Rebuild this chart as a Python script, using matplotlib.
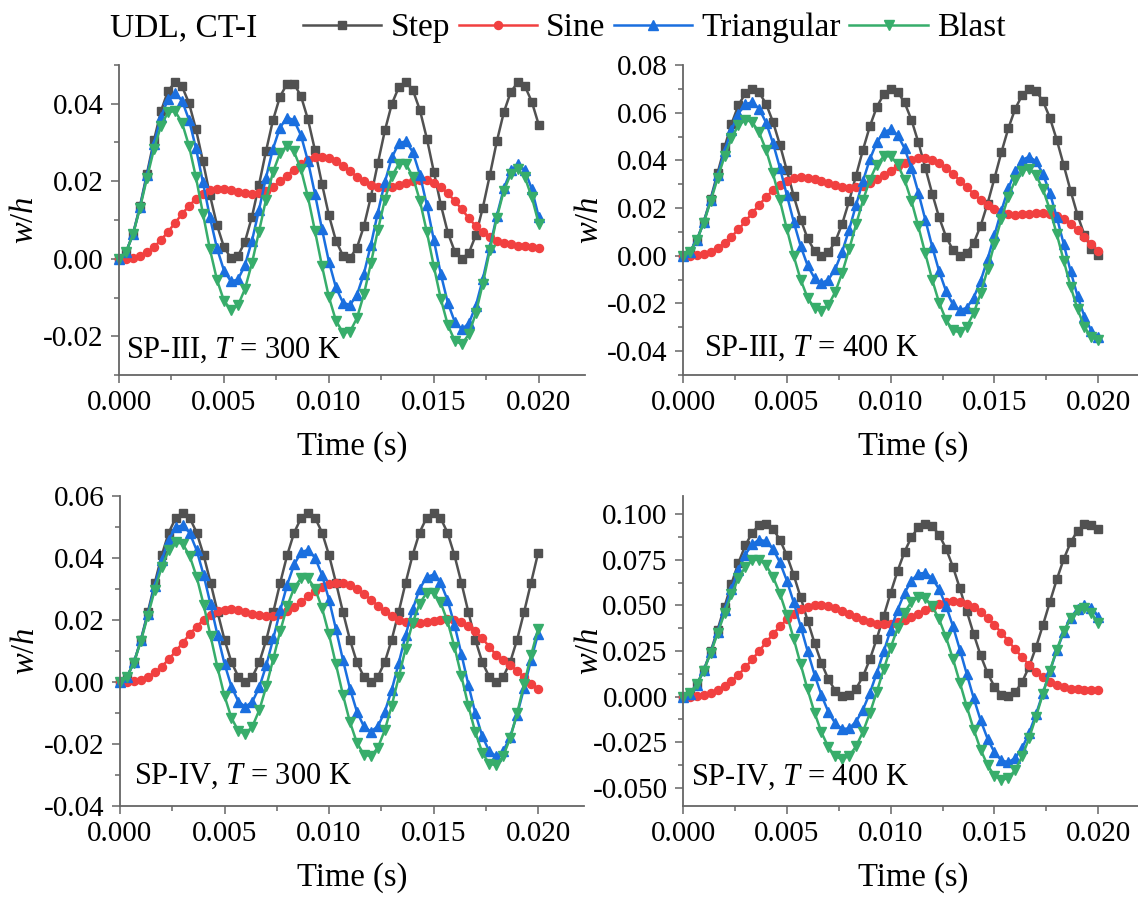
import matplotlib
matplotlib.use("Agg")
import matplotlib.pyplot as plt
from matplotlib.ticker import MultipleLocator, FormatStrFormatter

plt.rcParams['font.family'] = 'Liberation Serif'
plt.rcParams['mathtext.fontset'] = 'custom'
plt.rcParams['mathtext.rm'] = 'Liberation Serif'
plt.rcParams['mathtext.it'] = 'Liberation Serif:italic'

# time samples (s)
time = [0.0, 0.000333, 0.000667, 0.001, 0.001333, 0.001667, 0.002, 0.002333, 0.002667, 0.003,
        0.003333, 0.003667, 0.004, 0.004333, 0.004667, 0.005, 0.005333, 0.005667, 0.006, 0.006333,
        0.006667, 0.007, 0.007333, 0.007667, 0.008, 0.008333, 0.008667, 0.009, 0.009333, 0.009667,
        0.01, 0.010333, 0.010667, 0.011, 0.011333, 0.011667, 0.012, 0.012333, 0.012667, 0.013,
        0.013333, 0.013667, 0.014, 0.014333, 0.014667, 0.015, 0.015333, 0.015667, 0.016, 0.016333,
        0.016667, 0.017, 0.017333, 0.017667, 0.018, 0.018333, 0.018667, 0.019, 0.019333, 0.019667,
        0.02]

# SP-III, T = 300 K
sp3_300_step = [0.0, 0.0017, 0.0064, 0.0136, 0.0220, 0.0306, 0.0381, 0.0433, 0.0455, 0.0445,
                0.0402, 0.0334, 0.0251, 0.0164, 0.0087, 0.0030, 0.0002, 0.0007, 0.0044, 0.0108,
                0.0190, 0.0277, 0.0357, 0.0418, 0.0451, 0.0452, 0.0420, 0.0360, 0.0281, 0.0194,
                0.0112, 0.0047, 0.0008, 0.0002, 0.0028, 0.0084, 0.0160, 0.0247, 0.0331, 0.0400,
                0.0443, 0.0456, 0.0435, 0.0384, 0.0310, 0.0224, 0.0139, 0.0067, 0.0018, 0.0000,
                0.0015, 0.0061, 0.0132, 0.0216, 0.0303, 0.0378, 0.0431, 0.0455, 0.0446, 0.0405,
                0.0345]
sp3_300_sine = [0.0, 0.00003, 0.00023, 0.00074, 0.00167, 0.00304, 0.00483, 0.00695, 0.00924, 0.01153,
                0.01366, 0.01545, 0.01680, 0.01766, 0.01803, 0.01799, 0.01769, 0.01727, 0.01692, 0.01679,
                0.01700, 0.01761, 0.01861, 0.01994, 0.02146, 0.02301, 0.02442, 0.02552, 0.02618, 0.02633,
                0.02595, 0.02512, 0.02394, 0.02258, 0.02120, 0.01999, 0.01907, 0.01854, 0.01840, 0.01861,
                0.01908, 0.01964, 0.02012, 0.02036, 0.02021, 0.01959, 0.01846, 0.01686, 0.01489, 0.01271,
                0.01048, 0.00839, 0.00680, 0.00560, 0.00470, 0.00410, 0.00370, 0.00340, 0.00320, 0.00300,
                0.00270]
sp3_300_tri = [0.0, 0.00165, 0.00634, 0.01332, 0.02152, 0.02969, 0.03658, 0.04114, 0.04265, 0.04083,
               0.03588, 0.02850, 0.01968, 0.01067, 0.00272, -0.00304, -0.00586, -0.00535, -0.00166, 0.00462,
               0.01253, 0.02086, 0.02833, 0.03381, 0.03644, 0.03578, 0.03187, 0.02523, 0.01678, 0.00770,
               -0.00076, -0.00739, -0.01130, -0.01197, -0.00934, -0.00387, 0.00360, 0.01193, 0.01984, 0.02613,
               0.02982, 0.03032, 0.02751, 0.02174, 0.01380, 0.00479, -0.00402, -0.01141, -0.01635, -0.01818,
               -0.01668, -0.01212, -0.00523, 0.00294, 0.01115, 0.01813, 0.02281, 0.02447, 0.02280, 0.01799,
               0.01070]
sp3_300_blast = [0.0, 0.00166, 0.00629, 0.01306, 0.02083, 0.02832, 0.03431, 0.03779, 0.03812, 0.03514,
                 0.02917, 0.02097, 0.01163, 0.00242, -0.00543, -0.01084, -0.01313, -0.01204, -0.00780, -0.00113,
                 0.00696, 0.01519, 0.02231, 0.02721, 0.02912, 0.02771, 0.02312, 0.01597, 0.00726, -0.00179,
                 -0.00990, -0.01594, -0.01907, -0.01885, -0.01537, -0.00917, -0.00118, 0.00740, 0.01528, 0.02130,
                 0.02453, 0.02449, 0.02116, 0.01500, 0.00689, -0.00201, -0.01043, -0.01714, -0.02120, -0.02202,
                 -0.01950, -0.01402, -0.00640, 0.00223, 0.01062, 0.01752, 0.02191, 0.02314, 0.02103, 0.01586,
                 0.00900]

# SP-III, T = 400 K
sp3_400_step = [0.0, 0.00170, 0.00662, 0.01430, 0.02398, 0.03472, 0.04550, 0.05526, 0.06306, 0.06813,
                0.07000, 0.06847, 0.06370, 0.05614, 0.04655, 0.03583, 0.02502, 0.01519, 0.00728, 0.00205,
                0.00002, 0.00138, 0.00599, 0.01341, 0.02294, 0.03362, 0.04445, 0.05435, 0.06238, 0.06776,
                0.06996, 0.06878, 0.06432, 0.05702, 0.04758, 0.03692, 0.02608, 0.01611, 0.00797, 0.00244,
                0.00007, 0.00109, 0.00539, 0.01256, 0.02191, 0.03253, 0.04339, 0.05343, 0.06169, 0.06736,
                0.06989, 0.06904, 0.06490, 0.05786, 0.04860, 0.03802, 0.02715, 0.01705, 0.00867, 0.00286,
                0.00015]
sp3_400_sine = [0.0, 0.00003, 0.00023, 0.00077, 0.00176, 0.00329, 0.00537, 0.00799, 0.01104, 0.01440,
                0.01791, 0.02138, 0.02462, 0.02747, 0.02979, 0.03149, 0.03254, 0.03296, 0.03281, 0.03224,
                0.03138, 0.03041, 0.02952, 0.02887, 0.02859, 0.02875, 0.02941, 0.03054, 0.03206, 0.03384,
                0.03573, 0.03754, 0.03911, 0.04026, 0.04085, 0.04080, 0.04008, 0.03870, 0.03673, 0.03430,
                0.03156, 0.02871, 0.02592, 0.02335, 0.02117, 0.01945, 0.01824, 0.01753, 0.01727, 0.01731,
                0.01753, 0.01775, 0.01778, 0.01747, 0.01668, 0.01533, 0.01336, 0.01081, 0.00790, 0.00480,
                0.00200]
sp3_400_tri = [0.0, 0.00169, 0.00655, 0.01406, 0.02343, 0.03370, 0.04382, 0.05276, 0.05959, 0.06360,
               0.06433, 0.06167, 0.05583, 0.04729, 0.03686, 0.02547, 0.01417, 0.00401, -0.00408, -0.00937,
               -0.01142, -0.01007, -0.00551, 0.00175, 0.01099, 0.02122, 0.03140, 0.04050, 0.04758, 0.05190,
               0.05297, 0.05066, 0.04511, 0.03682, 0.02653, 0.01519, 0.00383, -0.00648, -0.01482, -0.02043,
               -0.02281, -0.02180, -0.01755, -0.01051, -0.00144, 0.00874, 0.01897, 0.02823, 0.03555, 0.04017,
               0.04158, 0.03960, 0.03436, 0.02631, 0.01619, 0.00491, -0.00650, -0.01695, -0.02554, -0.03144,
               -0.03416]
sp3_400_blast = [0.0, 0.00171, 0.00655, 0.01390, 0.02288, 0.03249, 0.04165, 0.04933, 0.05468, 0.05703,
                 0.05605, 0.05172, 0.04436, 0.03456, 0.02320, 0.01127, -0.00017, -0.01008, -0.01759, -0.02205,
                 -0.02310, -0.02070, -0.01517, -0.00711, 0.00267, 0.01313, 0.02321, 0.03188, 0.03826, 0.04166,
                 0.04173, 0.03840, 0.03196, 0.02300, 0.01233, 0.00096, -0.01003, -0.01962, -0.02690, -0.03122,
                 -0.03217, -0.02968, -0.02402, -0.01577, -0.00575, 0.00506, 0.01558, 0.02476, 0.03172, 0.03575,
                 0.03645, 0.03373, 0.02785, 0.01936, 0.00906, -0.00204, -0.01290, -0.02246, -0.02982, -0.03426,
                 -0.03537]

# SP-IV, T = 300 K
sp4_300_step = [0.0, 0.00165, 0.00639, 0.01365, 0.02256, 0.03204, 0.04095, 0.04821, 0.05295, 0.05460,
                0.05295, 0.04821, 0.04095, 0.03204, 0.02256, 0.01365, 0.00639, 0.00165, 0.0, 0.00165,
                0.00639, 0.01365, 0.02256, 0.03204, 0.04095, 0.04821, 0.05295, 0.05460, 0.05295, 0.04821,
                0.04095, 0.03204, 0.02256, 0.01365, 0.00639, 0.00165, 0.0, 0.00165, 0.00639, 0.01365,
                0.02256, 0.03204, 0.04095, 0.04821, 0.05295, 0.05460, 0.05295, 0.04821, 0.04095, 0.03204,
                0.02256, 0.01365, 0.00639, 0.00165, 0.0, 0.00165, 0.00639, 0.01365, 0.02256, 0.03204,
                0.04150]
sp4_300_sine = [0.0, 0.00003, 0.00023, 0.00074, 0.00168, 0.00310, 0.00500, 0.00732, 0.00993, 0.01268,
                0.01540, 0.01790, 0.02005, 0.02170, 0.02281, 0.02338, 0.02345, 0.02314, 0.02260, 0.02199,
                0.02150, 0.02126, 0.02139, 0.02195, 0.02294, 0.02429, 0.02589, 0.02759, 0.02921, 0.03058,
                0.03156, 0.03202, 0.03190, 0.03122, 0.03001, 0.02841, 0.02656, 0.02464, 0.02282, 0.02126,
                0.02006, 0.01930, 0.01897, 0.01901, 0.01932, 0.01975, 0.02012, 0.02027, 0.02005, 0.01934,
                0.01809, 0.01631, 0.01405, 0.01144, 0.00863, 0.00720, 0.00560, 0.00360, 0.00150, -0.00050,
                -0.00220]
sp4_300_tri = [0.0, 0.00164, 0.00632, 0.01342, 0.02204, 0.03107, 0.03939, 0.04592, 0.04984, 0.05061,
               0.04808, 0.04251, 0.03452, 0.02501, 0.01509, 0.00589, -0.00153, -0.00633, -0.00799, -0.00635,
               -0.00167, 0.00543, 0.01405, 0.02308, 0.03140, 0.03793, 0.04185, 0.04262, 0.04009, 0.03452,
               0.02653, 0.01702, 0.00710, -0.00210, -0.00952, -0.01432, -0.01598, -0.01434, -0.00966, -0.00256,
               0.00606, 0.01509, 0.02341, 0.02994, 0.03386, 0.03462, 0.03210, 0.02653, 0.01854, 0.00904,
               -0.00089, -0.01009, -0.01751, -0.02232, -0.02397, -0.02233, -0.01765, -0.01055, -0.00193, 0.00710,
               0.01542]
sp4_300_blast = [0.0, 0.00165, 0.00629, 0.01320, 0.02141, 0.02978, 0.03717, 0.04255, 0.04515, 0.04454,
                 0.04068, 0.03392, 0.02498, 0.01484, 0.00462, -0.00453, -0.01160, -0.01582, -0.01675, -0.01436,
                 -0.00901, -0.00141, 0.00745, 0.01645, 0.02443, 0.03039, 0.03354, 0.03346, 0.03010, 0.02383,
                 0.01536, 0.00566, -0.00413, -0.01288, -0.01956, -0.02340, -0.02397, -0.02124, -0.01556, -0.00765,
                 0.00152, 0.01080, 0.01906, 0.02528, 0.02869, 0.02885, 0.02572, 0.01967, 0.01141, 0.00191,
                 -0.00769, -0.01625, -0.02276, -0.02643, -0.02684, -0.02395, -0.01813, -0.01008, -0.00078, 0.00863,
                 0.01701]

# SP-IV, T = 400 K
sp4_400_step = [0.0, 0.00170, 0.00667, 0.01458, 0.02481, 0.03668, 0.04931, 0.06180, 0.07327, 0.08288,
                0.08995, 0.09397, 0.09465, 0.09194, 0.08605, 0.07739, 0.06656, 0.05437, 0.04168, 0.02940,
                0.01841, 0.00950, 0.00331, 0.00027, 0.00062, 0.00431, 0.01109, 0.02048, 0.03180, 0.04423,
                0.05689, 0.06887, 0.07932, 0.08748, 0.09275, 0.09478, 0.09342, 0.08876, 0.08113, 0.07111,
                0.05935, 0.04675, 0.03420, 0.02259, 0.01276, 0.00542, 0.00109, 0.00007, 0.00245, 0.00804,
                0.01645, 0.02709, 0.03919, 0.05187, 0.06423, 0.07538, 0.08453, 0.09101, 0.09438, 0.09437,
                0.09170]
sp4_400_sine = [0.0, 0.00003, 0.00023, 0.00077, 0.00180, 0.00339, 0.00563, 0.00850, 0.01199, 0.01600,
                0.02040, 0.02504, 0.02973, 0.03429, 0.03853, 0.04228, 0.04540, 0.04779, 0.04940, 0.05021,
                0.05027, 0.04967, 0.04854, 0.04703, 0.04532, 0.04358, 0.04201, 0.04076, 0.03993, 0.03961,
                0.03985, 0.04064, 0.04190, 0.04353, 0.04540, 0.04733, 0.04916, 0.05069, 0.05176, 0.05222,
                0.05197, 0.05093, 0.04909, 0.04648, 0.04317, 0.03930, 0.03501, 0.03049, 0.02592, 0.02148,
                0.01736, 0.01369, 0.01057, 0.00810, 0.00624, 0.00500, 0.00427, 0.00394, 0.00387, 0.00387,
                0.00377]
sp4_400_tri = [0.0, 0.00169, 0.00660, 0.01433, 0.02425, 0.03562, 0.04756, 0.05915, 0.06951, 0.07785,
               0.08351, 0.08602, 0.08517, 0.08094, 0.07359, 0.06361, 0.05160, 0.03843, 0.02495, 0.01210,
               0.00073, -0.00841, -0.01470, -0.01777, -0.01742, -0.01376, -0.00710, 0.00204, 0.01293, 0.02475,
               0.03658, 0.04754, 0.05679, 0.06358, 0.06738, 0.06788, 0.06499, 0.05884, 0.04982, 0.03856,
               0.02574, 0.01228, -0.00093, -0.01300, -0.02312, -0.03059, -0.03498, -0.03600, -0.03364, -0.02812,
               -0.01991, -0.00962, 0.00194, 0.01387, 0.02530, 0.03531, 0.04315, 0.04821, 0.05006, 0.04851,
               0.04363]
sp4_400_blast = [0.0, 0.00172, 0.00665, 0.01429, 0.02388, 0.03466, 0.04567, 0.05599, 0.06477, 0.07123,
                 0.07481, 0.07513, 0.07206, 0.06572, 0.05646, 0.04487, 0.03164, 0.01768, 0.00390, -0.00881,
                 -0.01959, -0.02775, -0.03279, -0.03438, -0.03250, -0.02732, -0.01928, -0.00901, 0.00271, 0.01498,
                 0.02689, 0.03753, 0.04610, 0.05194, 0.05459, 0.05384, 0.04970, 0.04243, 0.03252, 0.02069,
                 0.00768, -0.00554, -0.01807, -0.02903, -0.03767, -0.04337, -0.04576, -0.04468, -0.04023, -0.03274,
                 -0.02279, -0.01106, 0.00156, 0.01416, 0.02582, 0.03570, 0.04308, 0.04740, 0.04838, 0.04591,
                 0.04016]

load_names = ['Step', 'Sine', 'Triangular', 'Blast']
colors = ['#515151', '#F14040', '#1A6FDF', '#37AD6B']
markers = ['s', 'o', '^', 'v']
msizes = [5.8, 5.8, 7, 7]

W, H = 1138, 900
fig = plt.figure(figsize=(W / 100, H / 100), dpi=100)

# (left px, bottom px, width px), data, ylim, major, minor, fmt, label, label pos
panels = [
    ((119, 375, 466), [sp3_300_step, sp3_300_sine, sp3_300_tri, sp3_300_blast],
     (-0.03, 0.05), 0.02, 0.01, '%.2f', 'SP-III, $T$ = 300 K', (0.015, 0.08)),
    ((683, 375, 461), [sp3_400_step, sp3_400_sine, sp3_400_tri, sp3_400_blast],
     (-0.05, 0.08), 0.02, 0.01, '%.2f', 'SP-III, $T$ = 400 K', (0.045, 0.085)),
    ((120, 806, 464), [sp4_300_step, sp4_300_sine, sp4_300_tri, sp4_300_blast],
     (-0.04, 0.06), 0.02, 0.01, '%.2f', 'SP-IV, $T$ = 300 K', (0.03, 0.097)),
    ((683, 806, 461), [sp4_400_step, sp4_400_sine, sp4_400_tri, sp4_400_blast],
     (-0.06, 0.11), 0.025, 0.0125, '%.3f', 'SP-IV, $T$ = 400 K', (0.017, 0.094)),
]

axis_gray = '#666666'
handles = []
for (lpx, bpx, wpx), series, ylim, major, minor, fmt, label, lpos in panels:
    ax = fig.add_axes([lpx / W, (H - bpx) / H, wpx / W, 310 / H])
    for vals, name, c, m, ms in zip(series, load_names, colors, markers, msizes):
        line, = ax.plot(time, vals, color=c, marker=m, ms=ms, mec=c, lw=1.8,
                        label=name, clip_on=False)
        if len(handles) < 4:
            handles.append(line)
    ax.set_xlim(0, 0.0222)
    ax.set_ylim(*ylim)
    ax.xaxis.set_major_locator(MultipleLocator(0.005))
    ax.xaxis.set_minor_locator(MultipleLocator(0.0025))
    ax.xaxis.set_major_formatter(FormatStrFormatter('%.3f'))
    ax.yaxis.set_major_locator(MultipleLocator(major))
    ax.yaxis.set_minor_locator(MultipleLocator(minor))
    ax.yaxis.set_major_formatter(FormatStrFormatter(fmt))
    for side in ['top', 'right']:
        ax.spines[side].set_visible(False)
    for side in ['left', 'bottom']:
        ax.spines[side].set_color(axis_gray)
        ax.spines[side].set_linewidth(1.3)
    ax.tick_params(which='both', direction='out', color=axis_gray, width=1.1,
                   labelsize=21, pad=5)
    ax.tick_params(which='major', length=6)
    ax.tick_params(which='minor', length=3.5)
    ax.set_xlabel('Time (s)', fontsize=23.5)
    ax.xaxis.set_label_coords(0.5, -0.18)
    ax.set_ylabel('$w/h$', fontsize=23.5)
    ax.yaxis.set_label_coords(-0.17, 0.5)
    ax.text(lpos[0], lpos[1], label, transform=ax.transAxes, fontsize=22,
            ha='left', va='center')

fig.text(110 / W, 1 - 28 / H, 'UDL, CT-I', fontsize=24, va='center', ha='left')
fig.legend(handles, load_names, loc='center left', bbox_to_anchor=(303 / W, 1 - 28 / H),
           ncol=4, frameon=False, fontsize=24, handlelength=2.35, handletextpad=0.28,
           columnspacing=0.25, borderpad=0, borderaxespad=0, numpoints=1)

fig.savefig('out.png', dpi=100)
